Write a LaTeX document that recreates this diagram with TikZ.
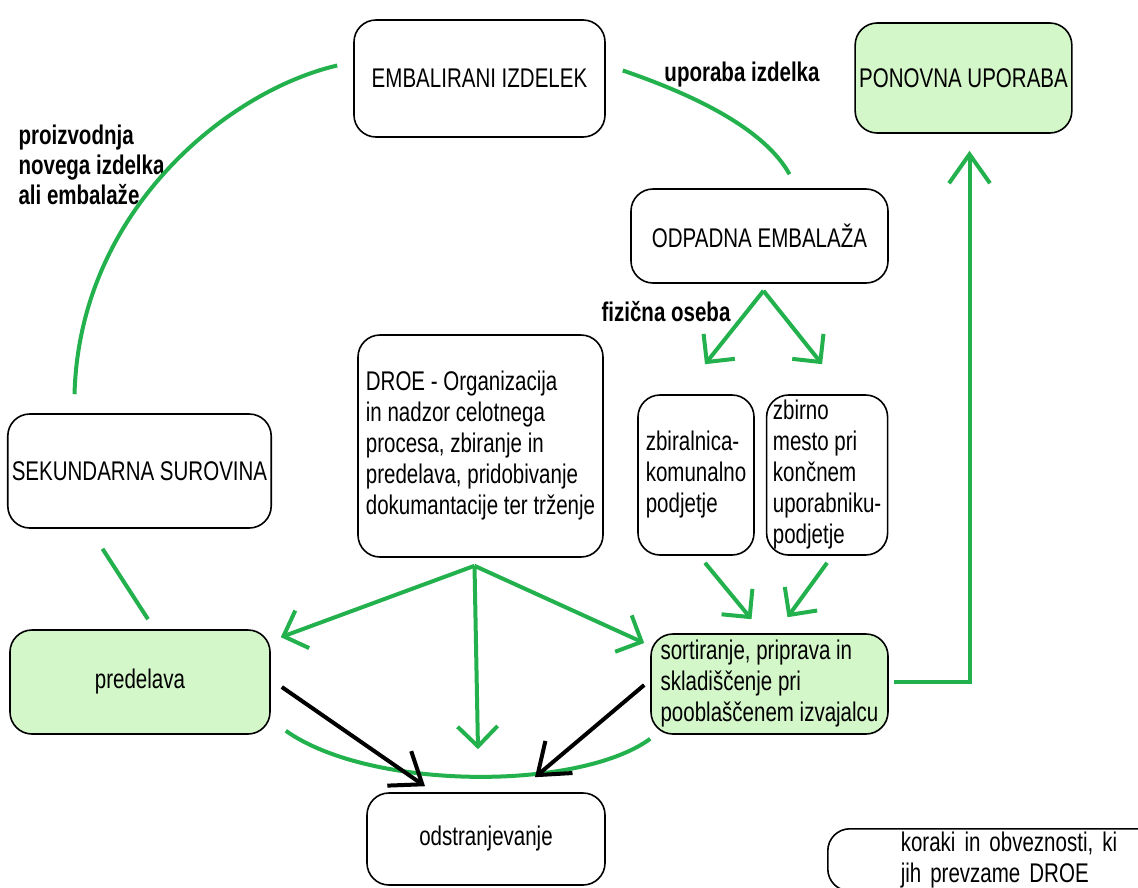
\documentclass[tikz,border=0pt]{standalone}
\usepackage{fontspec}
\setmainfont{Liberation Sans}[FakeStretch=0.76]
\usetikzlibrary{arrows.meta,positioning}

\definecolor{pgreen}{RGB}{34,177,76}
\definecolor{pfill}{RGB}{211,247,201}

\begin{document}
\begin{tikzpicture}[
    x=1pt, y=-1pt,
    every node/.style={font=\fontsize{27}{31}\selectfont},
    box/.style={rectangle, draw, line width=1.6pt, rounded corners=22pt, inner sep=4pt, text centered},
    greenbox/.style={box, fill=pfill},
    lbl/.style={font=\fontsize{27}{31}\selectfont\bfseries},
    flow/.style={draw=pgreen, line width=4pt},
    flowarrow/.style={flow, -{Straight Barb[length=20pt,width=40pt]}},
    bigtip/.style={-{Straight Barb[length=29pt,width=41pt]}},
    dark/.style={draw=black, line width=4pt, -{Straight Barb[length=28pt,width=42pt]}}
]
    \clip (0,0) rectangle (1138,887);

    \node[box, minimum width=251pt, minimum height=117pt] (embal) at (479.5,78.5) {EMBALIRANI IZDELEK};
    \node[greenbox, minimum width=215pt, minimum height=110pt] (ponov) at (963.5,78) {PONOVNA UPORABA};
    \node[box, minimum width=257pt, minimum height=94pt] (odpad) at (759.5,236) {ODPADNA EMBALAŽA};
    \node[box, minimum width=245pt, minimum height=222pt, align=left] (droe) at (480.5,446) {DROE - Organizacija\\in nadzor celotnega\\procesa, zbiranje in\\predelava, pridobivanje\\dokumantacije ter trženje};
    \node[box, minimum width=261pt, minimum height=114pt] (sek) at (139.5,471) {SEKUNDARNA SUROVINA};
    \node[box, minimum width=116pt, minimum height=160pt, align=left] (zbiral) at (696,475) {zbiralnica-\\komunalno\\podjetje};
    \node[box, right=11pt of zbiral, minimum width=121pt, minimum height=160pt, align=left] (zbirno) {zbirno\\mesto pri\\končnem\\uporabniku-\\podjetje};
    \node[greenbox, minimum width=260pt, minimum height=104pt] (pred) at (140,682) {predelava};
    \node[greenbox, minimum width=237pt, minimum height=100pt, align=left] (sort) at (769.5,684) {sortiranje, priprava in\\skladiščenje pri\\pooblaščenem izvajalcu};
    \node[box, minimum width=238pt, minimum height=92pt] (odstr) at (486,839) {odstranjevanje};
    \node[box, anchor=north west, text width=240pt, inner xsep=73pt, inner ysep=3pt, align=left] (legend) at (827,828) {koraki in obveznosti, ki\\jih prevzame DROE};

    \node[lbl] (uporaba) at (742,75) {uporaba izdelka};
    \node[lbl, anchor=west, align=left, font=\fontsize{27}{30}\selectfont\bfseries] (proizv) at (15,165) {proizvodnja\\novega izdelka\\ali embalaže};
    \node[lbl] (fizicna) at (666,312) {fizična oseba};

    \draw[flow] ([shift={(-65,-19)}]sek.north) .. controls +(5,-185) and +(-108,25) .. ([shift={(-16,-13)}]embal.west);
    \draw[flow] ([shift={(17,-8)}]embal.east) .. controls +(73,25) and +(-25,-45) .. ([shift={(30,-14)}]odpad.north);
    \draw[flow] ([shift={(-37,20)}]sek.south) -- ([shift={(8,-10)}]pred.north);
    \draw[flowarrow] ([shift={(4,7)}]odpad.south) -- ([shift={(9,-30)}]zbiral.north);
    \draw[flowarrow] ([shift={(4,7)}]odpad.south) -- ([shift={(-5,-30)}]zbirno.north);
    \draw[flowarrow] ([shift={(9,7)}]zbiral.south) -- ([shift={(-18,-14)}]sort.north);
    \draw[flowarrow] ([shift={(0,7)}]zbirno.south) -- ([shift={(18,-16)}]sort.north);
    \draw[flowarrow] ([shift={(-6,8)}]droe.south) -- ([shift={(10,8)}]pred.north east);
    \draw[flowarrow] ([shift={(-6,8)}]droe.south) -- ([shift={(-8,-43)}]odstr.north);
    \draw[flowarrow] ([shift={(-6,8)}]droe.south) -- ([shift={(-6,-41)}]sort.west);
    \draw[flowarrow, bigtip] ([shift={(5,-2)}]sort.east) -| ([shift={(6,17)}]ponov.south);
    \draw[flow] ([shift={(15,-4)}]pred.south east) .. controls +(85,60) and +(-71,52) .. ([shift={(0,4)}]sort.south west);
    \draw[dark] ([shift={(11,5)}]pred.east) -- ([shift={(-61,-6)}]odstr.north);
    \draw[dark] ([shift={(-6,1)}]sort.west) -- ([shift={(49,-15)}]odstr.north);
\end{tikzpicture}
\end{document}
